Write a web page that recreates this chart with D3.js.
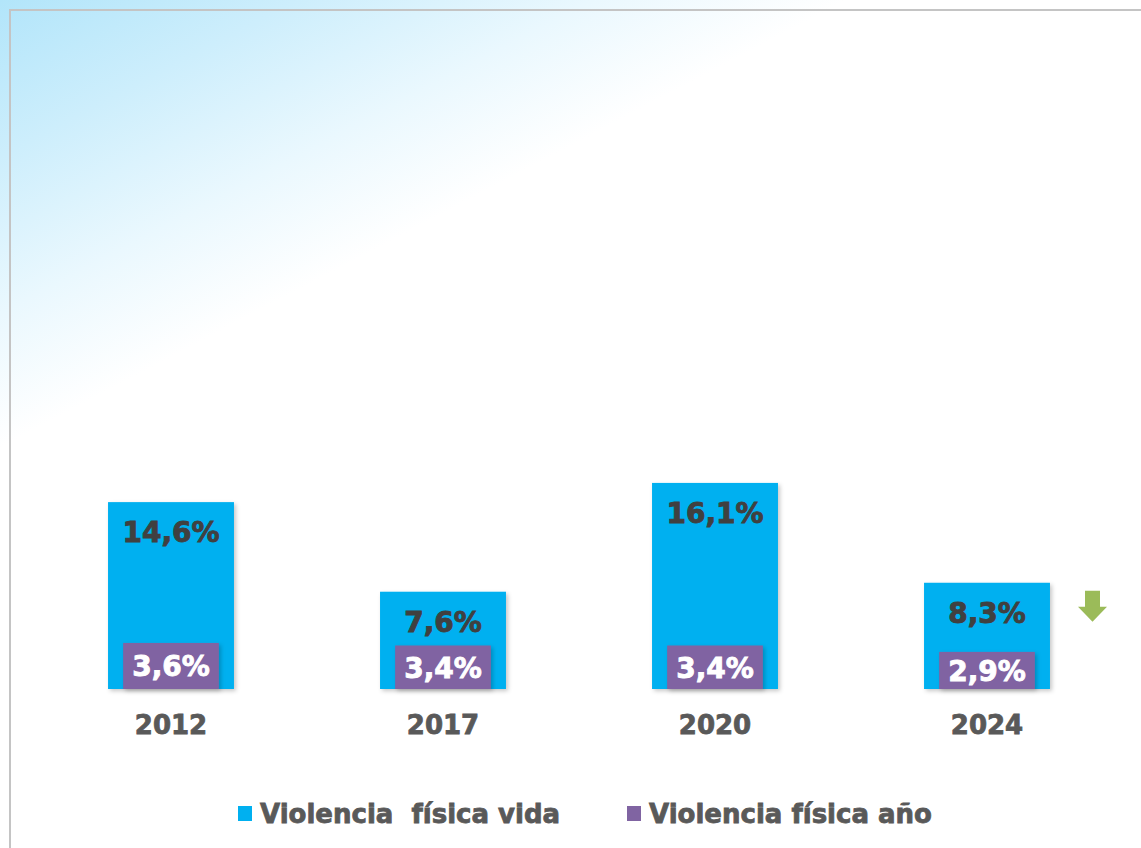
<!DOCTYPE html>
<meta charset="utf-8">
<style>
body { margin: 0; background: #fff; }
svg text { font-family: "DejaVu Sans", Verdana, sans-serif; font-weight: bold; white-space: pre; }
</style>
<body>
<script src="https://d3js.org/d3.v7.min.js"></script>
<script>
// data
var years = ["2012", "2017", "2020", "2024"];
var vida = [14.6, 7.6, 16.1, 8.3];   // Violencia física vida
var anio = [3.6, 3.4, 3.4, 2.9];     // Violencia física año
var seriesNames = ["Violencia  física vida", "Violencia física año"];
var seriesColors = ["#00B0F0", "#8064A2"];

var width = 1141, height = 848;
var base = 689;

var svg = d3.select("body").append("svg")
    .attr("width", width)
    .attr("height", height);

var defs = svg.append("defs");
var grad = defs.append("linearGradient")
    .attr("id", "bg")
    .attr("gradientUnits", "userSpaceOnUse")
    .attr("x1", 0).attr("y1", 0)
    .attr("x2", 185).attr("y2", 350);
grad.append("stop").attr("offset", 0).attr("stop-color", "#b2e5fa");
grad.append("stop").attr("offset", 0.35).attr("stop-color", "#cdeefc");
grad.append("stop").attr("offset", 0.7).attr("stop-color", "#eaf8fe");
grad.append("stop").attr("offset", 1).attr("stop-color", "#ffffff");

var shadow = defs.append("filter").attr("id", "shadow")
    .attr("x", "-20%").attr("y", "-20%").attr("width", "140%").attr("height", "140%");
shadow.append("feDropShadow")
    .attr("dx", 2).attr("dy", 2).attr("stdDeviation", 2)
    .attr("flood-color", "#000").attr("flood-opacity", 0.22);

svg.append("rect").attr("width", width).attr("height", height).attr("fill", "url(#bg)");

// frame
svg.append("path")
    .attr("d", "M10," + height + "V10H" + width)
    .attr("fill", "none")
    .attr("stroke", "#c4c4c4")
    .attr("stroke-width", 2);

var x = d3.scaleBand()
    .domain(years)
    .range([35, 1123])
    .paddingInner(0.537)
    .paddingOuter(0.537 / 2);

var y = d3.scaleLinear()
    .domain([0, 50])
    .range([base, 49]);

var innerW = x.bandwidth() * 0.76;
var fmt = function(v) { return v.toFixed(1).replace(".", ",") + "%"; };

// blue bars
svg.selectAll(".vida")
    .data(vida)
  .enter().append("rect")
    .attr("class", "vida")
    .attr("x", function(d, i) { return x(years[i]); })
    .attr("y", function(d) { return y(d); })
    .attr("width", x.bandwidth())
    .attr("height", function(d) { return base - y(d); })
    .attr("fill", seriesColors[0])
    .attr("filter", "url(#shadow)");

// purple bars
svg.selectAll(".anio")
    .data(anio)
  .enter().append("rect")
    .attr("class", "anio")
    .attr("x", function(d, i) { return x(years[i]) + (x.bandwidth() - innerW) / 2; })
    .attr("y", function(d) { return y(d); })
    .attr("width", innerW)
    .attr("height", function(d) { return base - y(d); })
    .attr("fill", seriesColors[1])
    .attr("filter", "url(#shadow)");

// baseline
svg.append("line")
    .attr("x1", 35).attr("x2", 1123)
    .attr("y1", base).attr("y2", base)
    .attr("stroke", "#bfbfbf")
    .attr("stroke-width", 2.5)
    .attr("filter", "url(#shadow)");

// value labels (thin stroke to get the heavy look of the original)
svg.selectAll(".lv")
    .data(vida)
  .enter().append("text")
    .attr("x", function(d, i) { return x(years[i]) + x.bandwidth() / 2; })
    .attr("y", function(d) { return y(d) + 40; })
    .attr("text-anchor", "middle")
    .attr("font-size", 28)
    .attr("fill", "#404040")
    .attr("stroke", "#404040")
    .attr("stroke-width", 0.9)
    .text(fmt);

svg.selectAll(".la")
    .data(anio)
  .enter().append("text")
    .attr("x", function(d, i) { return x(years[i]) + x.bandwidth() / 2; })
    .attr("y", function(d) { return (y(d) + base) / 2 + 10.5; })
    .attr("text-anchor", "middle")
    .attr("font-size", 28)
    .attr("fill", "#ffffff")
    .attr("stroke", "#ffffff")
    .attr("stroke-width", 0.9)
    .text(fmt);

// category axis
var xAxis = svg.append("g")
    .attr("transform", "translate(0," + base + ")")
    .call(d3.axisBottom(x).tickSize(0).tickPadding(27));
xAxis.select(".domain").remove();
xAxis.selectAll("text")
    .attr("font-size", 26)
    .attr("font-family", "DejaVu Sans")
    .attr("font-weight", "bold")
    .attr("fill", "#595959")
    .attr("stroke", "#595959")
    .attr("stroke-width", 0.8);

// down arrow next to 2024
var ax = x("2024") + x.bandwidth() / 2 + 105.5, ay = y(vida[3]) + 8;
svg.append("path")
    .attr("d", "M" + (ax - 7.5) + "," + ay + "h15v16h7l-14.5,15l-14.5,-15h7z")
    .attr("fill", "#9BBB59");

// legend
var legX = [238, 627];
var leg = svg.selectAll(".leg")
    .data(seriesNames)
  .enter().append("g")
    .attr("transform", function(d, i) { return "translate(" + legX[i] + ",806)"; });
leg.append("rect")
    .attr("width", 14).attr("height", 15)
    .attr("fill", function(d, i) { return seriesColors[i]; });
leg.append("text")
    .attr("x", 22).attr("y", 17)
    .attr("font-size", 26)
    .attr("fill", "#595959")
    .attr("stroke", "#595959")
    .attr("stroke-width", 0.8)
    .text(function(d) { return d; });
</script>
</body>
